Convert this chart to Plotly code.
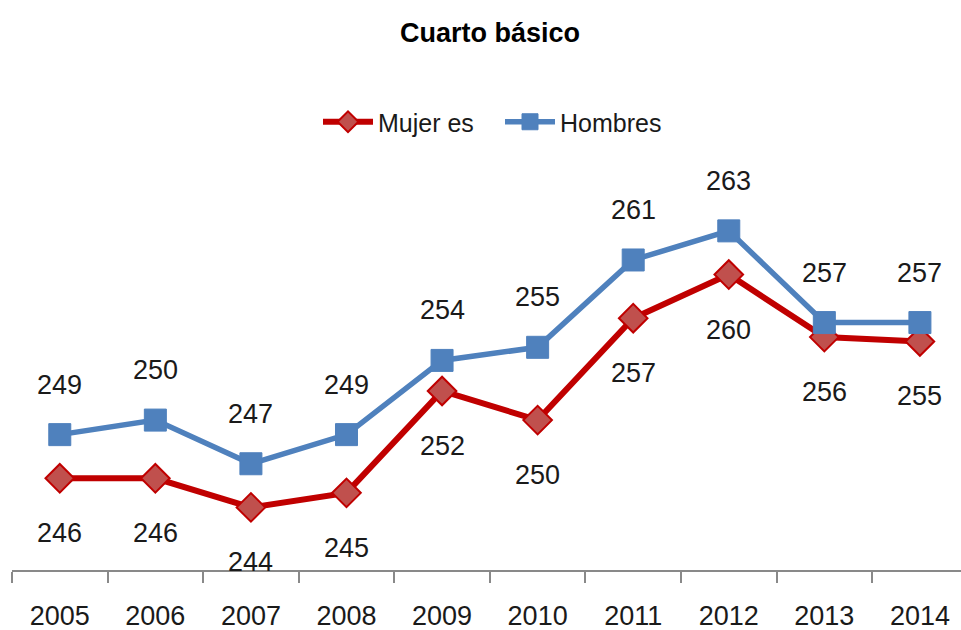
import plotly.graph_objects as go

years = ["2005", "2006", "2007", "2008", "2009", "2010", "2011", "2012", "2013", "2014"]
mujeres = [246.0, 246.0, 244.0, 245.0, 252.0, 250.0, 257.0, 260.0, 255.7, 255.4]
hombres = [249.0, 250.0, 247.0, 249.0, 254.1, 255.0, 261.0, 263.0, 256.7, 256.7]

FONT = "Liberation Sans Narrow, Liberation Sans, Arial, sans-serif"
TXT = "#1a1a1a"

fig = go.Figure()
fig.add_trace(go.Scatter(
    x=years, y=mujeres, name="Mujer es", mode="lines+markers",
    line=dict(color="#C00000", width=6),
    marker=dict(symbol="diamond", size=22, color="#C0504D",
                line=dict(color="#C00000", width=2)),
))
fig.add_trace(go.Scatter(
    x=years, y=hombres, name="Hombres", mode="lines+markers",
    line=dict(color="#4F81BD", width=5.5),
    marker=dict(symbol="square", size=22, color="#4F81BD",
                line=dict(color="#4F81BD", width=1)),
))

annotations = []
for i, v in enumerate(hombres):
    annotations.append(dict(x=i, y=v, xref="x", yref="y", text=f"{v:.0f}", showarrow=False,
                            yshift=50, font=dict(family=FONT, size=27, color=TXT)))
for i, v in enumerate(mujeres):
    annotations.append(dict(x=i, y=v, xref="x", yref="y", text=f"{v:.0f}", showarrow=False,
                            yshift=-55, font=dict(family=FONT, size=27, color=TXT)))

fig.update_layout(
    width=961, height=630,
    margin=dict(l=12, r=0, t=140, b=60),
    paper_bgcolor="white", plot_bgcolor="white",
    font=dict(family=FONT, size=26, color=TXT),
    title=dict(text="<b>Cuarto básico</b>", x=490 / 961, y=1 - 33 / 630,
               xref="container", yref="container", xanchor="center", yanchor="middle",
               font=dict(family=FONT, size=27, color="#000000")),
    legend=dict(orientation="h", x=500 / 961, y=1 - 122 / 630,
                xref="container", yref="container",
                xanchor="center", yanchor="middle", font=dict(family=FONT, size=25, color=TXT),
                itemwidth=50, entrywidth=117, entrywidthmode="pixels",
                bgcolor="rgba(0,0,0,0)"),
    showlegend=True,
    annotations=annotations,
    xaxis=dict(type="category", range=[-0.5, 9.43], tickson="boundaries",
               showline=True, linecolor="#898989", linewidth=1.5,
               ticks="outside", ticklen=11, tickcolor="#898989", tickwidth=1.5,
               showgrid=False, zeroline=False, ticklabelstandoff=21,
               tickfont=dict(family=FONT, size=27, color=TXT)),
    yaxis=dict(range=[239.7, 268.9], visible=False, showgrid=False, zeroline=False),
)

fig.write_html("out.html", config={"displayModeBar": False},
               post_script="document.body.style.margin='0px';document.body.style.overflow='hidden';")
